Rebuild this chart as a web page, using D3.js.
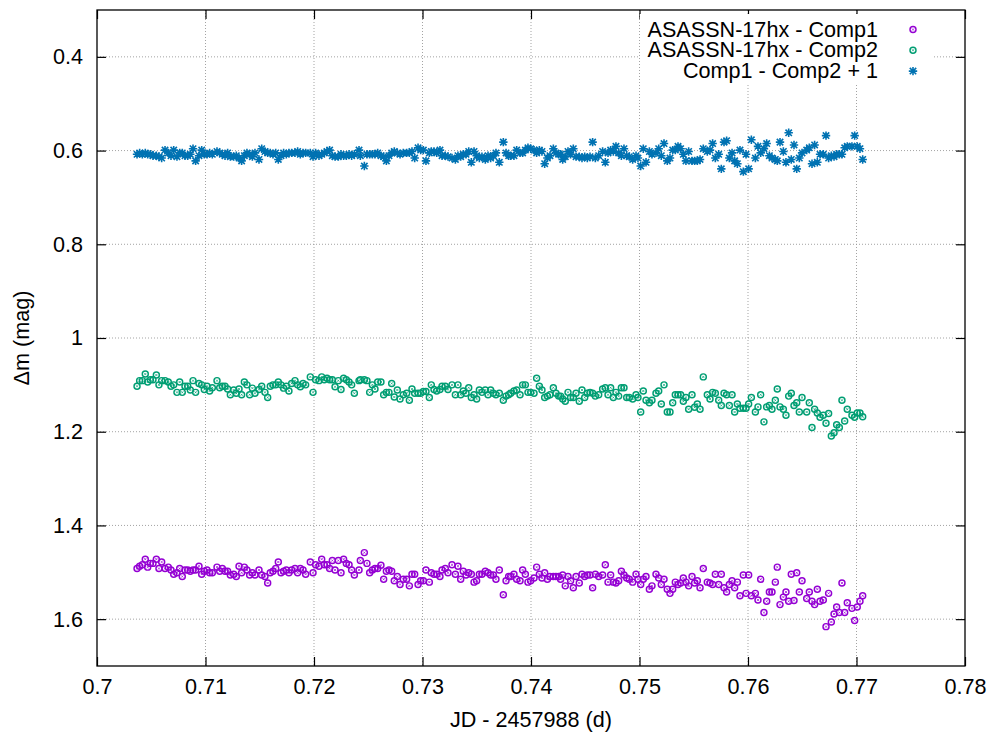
<!DOCTYPE html>
<html>
<head>
<meta charset="utf-8">
<script src="https://cdn.jsdelivr.net/npm/d3@7"></script>
<style>
  html, body { margin: 0; padding: 0; background: #fff; }
  svg { display: block; font-family: "Liberation Sans", Arial, Helvetica, sans-serif; }
</style>
</head>
<body>
<svg id="chart" width="993" height="732"></svg>
<script>
// Observation times, JD - 2457988 (d)
const times = [
  0.70369,0.70393,0.70418,0.70445,0.70467,0.70492,0.70516,0.70547,0.70571,0.70596,
  0.70627,0.70657,0.70682,0.70707,0.70737,0.70762,0.70786,0.70811,0.70836,0.70860,
  0.70885,0.70909,0.70940,0.70965,0.70989,0.71014,0.71038,0.71063,0.71106,0.71131,
  0.71155,0.71180,0.71204,0.71229,0.71260,0.71284,0.71309,0.71333,0.71358,0.71382,
  0.71407,0.71432,0.71456,0.71493,0.71518,0.71548,0.71573,0.71597,0.71622,0.71647,
  0.71671,0.71696,0.71720,0.71745,0.71769,0.71794,0.71825,0.71849,0.71874,0.71899,
  0.71923,0.71966,0.71991,0.72015,0.72046,0.72071,0.72095,0.72120,0.72144,0.72169,
  0.72194,0.72224,0.72249,0.72273,0.72298,0.72323,0.72347,0.72372,0.72415,0.72427,
  0.72464,0.72488,0.72513,0.72538,0.72562,0.72587,0.72617,0.72642,0.72667,0.72691,
  0.72716,0.72740,
  0.72768,0.72793,0.72823,0.72854,0.72879,0.72903,0.72928,0.72959,0.72983,0.73008,
  0.73032,0.73063,0.73081,0.73106,0.73131,0.73161,0.73180,0.73210,0.73235,0.73272,
  0.73303,0.73327,0.73352,0.73376,0.73401,0.73426,0.73450,0.73475,0.73499,0.73524,
  0.73548,0.73579,0.73604,0.73628,0.73653,0.73677,0.73708,0.73745,0.73770,0.73794,
  0.73813,0.73843,0.73868,0.73899,0.73923,0.73948,0.73972,0.73997,0.74028,0.74052,
  0.74077,0.74101,0.74126,0.74151,0.74175,0.74206,0.74230,0.74255,0.74273,0.74292,
  0.74316,0.74341,0.74365,0.74390,0.74415,0.74445,0.74470,0.74495,0.74519,0.74544,
  0.74568,0.74593,0.74624,0.74660,0.74685,0.74710,0.74734,0.74759,0.74783,0.74808,
  0.74833,0.74857,0.74882,0.74906,0.74937,0.74968,0.74986,0.75011,0.75035,0.75060,
  0.75091,0.75115,0.75152,0.75177,0.75201,0.75226,0.75256,0.75281,0.75306,0.75330,
  0.75355,0.75379,0.75404,0.75428,0.75453,
  0.75484,0.75508,0.75533,0.75558,0.75588,0.75625,0.75650,0.75674,0.75699,0.75730,
  0.75754,0.75779,0.75803,0.75828,0.75853,0.75877,0.75902,0.75926,0.75957,0.75982,
  0.76006,0.76031,0.76068,0.76092,0.76117,0.76147,0.76172,0.76197,0.76221,0.76252,
  0.76270,0.76295,0.76326,0.76350,0.76375,0.76399,0.76424,0.76449,0.76473,0.76498,
  0.76541,0.76565,0.76590,0.76614,0.76639,0.76664,0.76694,0.76719,0.76743,0.76768,
  0.76793,0.76817,0.76842,0.76866,0.76891,0.76915,0.76958,0.76983,0.77007,0.77032,
  0.77057
];

// ASASSN-17hx - Comp1 (mag)
const varMinusComp1 = [
  1.492,1.487,1.484,1.472,1.489,1.481,1.481,1.472,1.492,1.478,
  1.492,1.489,1.495,1.504,1.501,1.492,1.509,1.495,1.495,1.498,
  1.495,1.495,1.487,1.504,1.498,1.495,1.501,1.501,1.489,1.498,
  1.492,1.498,1.498,1.506,1.504,1.509,1.487,1.501,1.489,1.495,
  1.506,1.501,1.506,1.495,1.506,1.509,1.523,1.501,1.498,1.492,
  1.478,1.501,1.498,1.495,1.501,1.495,1.492,1.501,1.492,1.495,
  1.504,1.478,1.501,1.484,1.487,1.472,1.484,1.484,1.492,1.475,
  1.495,1.475,1.501,1.472,1.481,1.484,1.495,1.506,1.495,1.475,
  1.458,1.481,1.501,1.495,1.492,1.492,1.485,1.515,1.498,1.495,
  1.498,1.518,
  1.509,1.526,1.515,1.515,1.529,1.504,1.504,1.526,1.518,1.518,
  1.495,1.521,1.501,1.504,1.504,1.509,1.495,1.492,1.501,1.484,
  1.504,1.487,1.515,1.498,1.506,1.501,1.504,1.521,1.518,1.504,
  1.504,1.498,1.501,1.506,1.506,1.515,1.495,1.548,1.518,1.509,
  1.509,1.504,1.515,1.518,1.495,1.504,1.521,1.518,1.512,1.489,
  1.504,1.512,1.501,1.515,1.509,1.509,1.509,1.509,1.515,1.506,
  1.529,1.509,1.518,1.533,1.509,1.523,1.504,1.509,1.506,1.506,
  1.533,1.504,1.509,1.506,1.484,1.521,1.506,1.521,1.523,1.518,
  1.498,1.506,1.512,1.515,1.521,1.504,1.515,1.526,1.515,1.509,
  1.536,1.529,1.504,1.512,1.526,1.515,1.536,1.545,1.536,1.521,
  1.526,1.523,1.512,1.521,1.529,
  1.509,1.523,1.518,1.533,1.492,1.521,1.523,1.526,1.504,1.526,
  1.504,1.533,1.542,1.526,1.518,1.533,1.521,1.550,1.506,1.545,
  1.506,1.550,1.545,1.559,1.515,1.586,1.562,1.542,1.542,1.521,
  1.489,1.569,1.553,1.542,1.562,1.504,1.560,1.501,1.542,1.518,
  1.556,1.542,1.562,1.569,1.536,1.562,1.559,1.616,1.545,1.606,
  1.589,1.574,1.586,1.523,1.586,1.565,1.577,1.603,1.574,1.562,
  1.550
];

// ASASSN-17hx - Comp2 (mag)
const varMinusComp2 = [
  1.103,1.091,1.091,1.077,1.094,1.089,1.089,1.079,1.100,1.091,
  1.091,1.094,1.103,1.100,1.116,1.094,1.116,1.103,1.103,1.111,
  1.091,1.116,1.097,1.100,1.110,1.103,1.113,1.106,1.091,1.106,
  1.103,1.103,1.109,1.121,1.111,1.118,1.109,1.121,1.094,1.100,
  1.121,1.107,1.118,1.110,1.103,1.116,1.127,1.103,1.100,1.100,
  1.094,1.100,1.107,1.103,1.113,1.097,1.091,1.100,1.104,1.097,
  1.100,1.083,1.116,1.089,1.091,1.083,1.089,1.086,1.089,1.089,
  1.104,1.091,1.110,1.086,1.089,1.094,1.100,1.118,1.091,1.089,
  1.089,1.091,1.116,1.100,1.109,1.094,1.094,1.121,1.116,1.116,
  1.097,1.126,
  1.111,1.130,1.121,1.118,1.133,1.109,1.118,1.118,1.118,1.114,
  1.114,1.127,1.100,1.110,1.113,1.110,1.103,1.103,1.110,1.100,
  1.121,1.100,1.121,1.113,1.118,1.106,1.127,1.121,1.130,1.111,
  1.116,1.111,1.121,1.111,1.118,1.121,1.118,1.133,1.124,1.121,
  1.118,1.113,1.111,1.121,1.100,1.100,1.116,1.116,1.118,1.086,
  1.103,1.111,1.127,1.124,1.121,1.106,1.118,1.124,1.124,1.130,
  1.135,1.116,1.127,1.127,1.118,1.135,1.111,1.127,1.118,1.116,
  1.118,1.124,1.121,1.109,1.106,1.121,1.106,1.127,1.116,1.124,
  1.106,1.106,1.127,1.127,1.130,1.121,1.127,1.158,1.113,1.133,
  1.138,1.133,1.118,1.113,1.141,1.100,1.158,1.158,1.138,1.121,
  1.121,1.121,1.135,1.127,1.152,
  1.121,1.148,1.141,1.152,1.083,1.121,1.130,1.116,1.118,1.133,
  1.144,1.118,1.121,1.144,1.121,1.158,1.141,1.150,1.150,1.150,
  1.141,1.127,1.158,1.147,1.121,1.179,1.147,1.144,1.152,1.133,
  1.109,1.147,1.152,1.165,1.124,1.118,1.144,1.138,1.158,1.127,
  1.158,1.138,1.191,1.152,1.160,1.169,1.165,1.182,1.161,1.209,
  1.202,1.185,1.191,1.133,1.177,1.152,1.165,1.169,1.160,1.160,
  1.168
];

// Comp1 - Comp2 + 1 (mag)
const compCheck = [
  0.608,0.605,0.608,0.605,0.608,0.608,0.611,0.611,0.613,0.616,
  0.599,0.605,0.611,0.599,0.613,0.605,0.605,0.611,0.611,0.608,
  0.596,0.622,0.611,0.599,0.608,0.608,0.605,0.608,0.602,0.605,
  0.608,0.611,0.605,0.613,0.613,0.611,0.616,0.622,0.611,0.605,
  0.608,0.613,0.605,0.619,0.596,0.602,0.605,0.605,0.608,0.605,
  0.619,0.611,0.605,0.608,0.605,0.605,0.605,0.602,0.608,0.605,
  0.605,0.605,0.613,0.605,0.611,0.608,0.605,0.602,0.599,0.611,
  0.613,0.613,0.608,0.611,0.611,0.608,0.611,0.608,0.599,0.611,
  0.633,0.608,0.608,0.608,0.608,0.605,0.611,0.613,0.622,0.611,
  0.605,0.602,
  0.605,0.608,0.605,0.605,0.605,0.602,0.616,0.594,0.599,0.599,
  0.622,0.605,0.602,0.602,0.605,0.599,0.611,0.611,0.613,0.616,
  0.619,0.611,0.613,0.608,0.608,0.602,0.625,0.602,0.611,0.616,
  0.613,0.619,0.611,0.616,0.611,0.605,0.625,0.582,0.605,0.611,
  0.611,0.611,0.599,0.605,0.605,0.599,0.594,0.596,0.599,0.605,
  0.599,0.602,0.628,0.616,0.611,0.596,0.605,0.608,0.608,0.619,
  0.613,0.602,0.608,0.596,0.613,0.613,0.616,0.613,0.616,0.613,
  0.582,0.616,0.611,0.602,0.625,0.605,0.599,0.602,0.591,0.605,
  0.611,0.596,0.611,0.613,0.619,0.611,0.616,0.633,0.596,0.625,
  0.602,0.608,0.605,0.596,0.611,0.585,0.622,0.616,0.599,0.599,
  0.591,0.596,0.608,0.622,0.602,
  0.622,0.622,0.622,0.619,0.596,0.602,0.599,0.585,0.616,0.608,
  0.639,0.582,0.579,0.616,0.605,0.622,0.628,0.599,0.645,0.608,
  0.639,0.577,0.616,0.591,0.605,0.596,0.585,0.611,0.616,0.619,
  0.622,0.582,0.602,0.625,0.562,0.619,0.588,0.639,0.616,0.605,
  0.599,0.594,0.628,0.588,0.625,0.608,0.608,0.568,0.616,0.611,
  0.613,0.608,0.608,0.608,0.594,0.591,0.591,0.568,0.591,0.596,
  0.619
];

const seriesNames = ["ASASSN-17hx - Comp1", "ASASSN-17hx - Comp2", "Comp1 - Comp2 + 1"];
const seriesColors = ["#9400d3", "#009e73", "#0072b2"];
const seriesMarkers = ["circle", "circle", "asterisk"];
const xTicks = [0.7, 0.71, 0.72, 0.73, 0.74, 0.75, 0.76, 0.77, 0.78];
const yTicks = [0.4, 0.6, 0.8, 1.0, 1.2, 1.4, 1.6];
const xDomain = [0.7, 0.78];
const yDomain = [0.3, 1.7];

const plot = { left: 97, right: 965, top: 10, bottom: 666 };
const fontSize = 21.6;
const svg = d3.select("#chart");

const x = d3.scaleLinear().domain(xDomain).range([plot.left, plot.right]);
// magnitudes grow downward
const y = d3.scaleLinear().domain(yDomain).range([plot.top, plot.bottom]);

const fmt = d => String(+d.toFixed(2));

// grid
const grid = svg.append("g").attr("stroke", "#999").attr("stroke-width", 0.9)
  .attr("stroke-dasharray", "1,2").attr("fill", "none");
xTicks.filter(v => v > xDomain[0] && v < xDomain[1]).forEach(v => {
  grid.append("line").attr("x1", x(v)).attr("x2", x(v)).attr("y1", plot.top).attr("y2", plot.bottom);
});
yTicks.forEach(v => {
  grid.append("line").attr("x1", plot.left).attr("x2", plot.right).attr("y1", y(v)).attr("y2", y(v));
});

// markers
function drawCircle(g, cx, cy, color) {
  g.append("circle").attr("cx", cx).attr("cy", cy).attr("r", 3)
    .attr("fill", "none").attr("stroke", color).attr("stroke-width", 1.45);
  g.append("path").attr("d", `M${cx-1.1},${cy-1.1}L${cx+1.1},${cy+1.1}M${cx-1.1},${cy+1.1}L${cx+1.1},${cy-1.1}`)
    .attr("stroke", color).attr("stroke-width", 0.7);
}
function drawAsterisk(g, cx, cy, color) {
  const a = 4.2, b = 3.2;
  g.append("path")
    .attr("d", `M${cx-a},${cy}L${cx+a},${cy}M${cx},${cy-a}L${cx},${cy+a}` +
               `M${cx-b},${cy-b}L${cx+b},${cy+b}M${cx-b},${cy+b}L${cx+b},${cy-b}`)
    .attr("stroke", color).attr("stroke-width", 1.6).attr("fill", "none");
}
function drawMarker(g, kind, cx, cy, color) {
  if (kind === "asterisk") drawAsterisk(g, cx, cy, color);
  else drawCircle(g, cx, cy, color);
}

const seriesValues = [varMinusComp1, varMinusComp2, compCheck];
seriesValues.forEach((vals, i) => {
  const g = svg.append("g").attr("class", "series-" + i);
  vals.forEach((v, k) => drawMarker(g, seriesMarkers[i], x(times[k]), y(v), seriesColors[i]));
});

// axes (ticks point inward, mirrored on top and right)
const tickLen = 9;
const axisStyle = g => {
  g.selectAll(".domain").remove();
  g.selectAll(".tick line").attr("stroke", "#000").attr("stroke-width", 1.2);
  g.selectAll("text").attr("fill", "#000").attr("font-size", fontSize)
    .attr("font-family", "'Liberation Sans', Arial, sans-serif");
};
svg.append("g").attr("transform", `translate(0,${plot.bottom})`)
  .call(d3.axisBottom(x).tickValues(xTicks).tickFormat(fmt).tickSize(-tickLen).tickPadding(13))
  .call(axisStyle);
svg.append("g").attr("transform", `translate(0,${plot.top})`)
  .call(d3.axisTop(x).tickValues(xTicks).tickFormat("").tickSize(-tickLen))
  .call(axisStyle);
svg.append("g").attr("transform", `translate(${plot.left},0)`)
  .call(d3.axisLeft(y).tickValues(yTicks).tickFormat(fmt).tickSize(-tickLen).tickPadding(14))
  .call(axisStyle);
svg.append("g").attr("transform", `translate(${plot.right},0)`)
  .call(d3.axisRight(y).tickValues(yTicks).tickFormat("").tickSize(-tickLen))
  .call(axisStyle);

// legend
const legend = svg.append("g");
legend.append("rect").attr("x", 640).attr("y", 14).attr("width", 292).attr("height", 70).attr("fill", "#fff");
seriesNames.forEach((name, i) => {
  const cy = 29.5 + i * 20.8;
  legend.append("text").attr("x", 878).attr("y", cy + 7).attr("text-anchor", "end")
    .attr("font-size", fontSize).attr("fill", "#000").text(name);
  drawMarker(legend, seriesMarkers[i], 913, cy, seriesColors[i]);
});

// frame
svg.append("rect").attr("x", plot.left).attr("y", plot.top)
  .attr("width", plot.right - plot.left).attr("height", plot.bottom - plot.top)
  .attr("fill", "none").attr("stroke", "#000").attr("stroke-width", 1.3);

// axis titles
svg.append("text").attr("x", (plot.left + plot.right) / 2).attr("y", 727)
  .attr("text-anchor", "middle").attr("font-size", fontSize).attr("fill", "#000")
  .text("JD - 2457988 (d)");
svg.append("text").attr("transform", `translate(29,${(plot.top + plot.bottom) / 2}) rotate(-90)`)
  .attr("text-anchor", "middle").attr("font-size", fontSize).attr("fill", "#000")
  .text("Δm (mag)");
</script>
</body>
</html>
